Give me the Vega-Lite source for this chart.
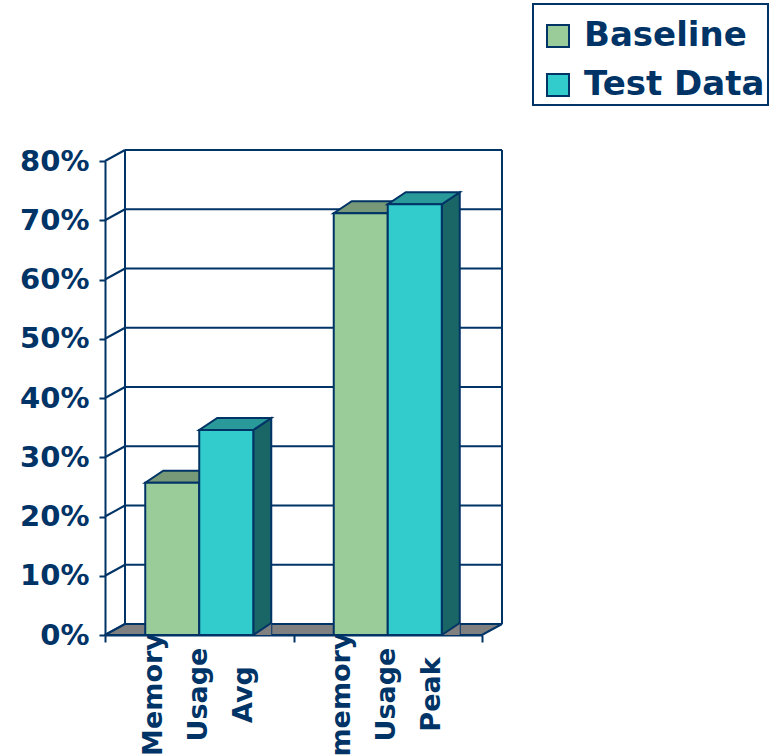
{
  "$schema": "https://vega.github.io/schema/vega-lite/v6.json",
  "width": 377,
  "height": 474,
  "autosize": "none",
  "padding": {"left": 105, "top": 161, "right": 295, "bottom": 121},
  "background": "white",
  "config": {
    "view": {"stroke": null},
    "legend": {"strokeWidth": 2}
  },
  "datasets": {
    "bars": [
      {"cat": "Memory Usage Avg", "series": "Baseline", "v": 0.257},
      {"cat": "Memory Usage Avg", "series": "Test Data", "v": 0.346},
      {"cat": "memory Usage Peak", "series": "Baseline", "v": 0.712},
      {"cat": "memory Usage Peak", "series": "Test Data", "v": 0.727}
    ],
    "ticks": [
      {"t": 0}, {"t": 0.1}, {"t": 0.2}, {"t": 0.3}, {"t": 0.4},
      {"t": 0.5}, {"t": 0.6}, {"t": 0.7}, {"t": 0.8}
    ],
    "one": [{"k": 1}]
  },
  "data": {"name": "bars"},
  "layer": [
    {
      "data": {"name": "ticks"},
      "mark": {"type": "rule", "color": "#003366", "strokeWidth": 2, "xOffset": 20, "x2Offset": 20, "yOffset": -11},
      "encoding": {
        "x": {"datum": "Memory Usage Avg", "type": "nominal", "bandPosition": 0},
        "x2": {"datum": "memory Usage Peak", "bandPosition": 1},
        "y": {"field": "t", "type": "quantitative"}
      }
    },
    {
      "data": {"name": "ticks"},
      "mark": {"type": "rule", "color": "#003366", "strokeWidth": 2, "x2Offset": 20, "y2Offset": -11},
      "encoding": {
        "x": {"datum": "Memory Usage Avg", "type": "nominal", "bandPosition": 0},
        "x2": {"datum": "Memory Usage Avg", "bandPosition": 0},
        "y": {"field": "t", "type": "quantitative"},
        "y2": {"field": "t"}
      }
    },
    {
      "data": {"name": "one"},
      "mark": {"type": "rule", "color": "#003366", "strokeWidth": 2, "xOffset": 20, "yOffset": -11, "y2Offset": -11},
      "encoding": {
        "x": {"datum": "Memory Usage Avg", "type": "nominal", "bandPosition": 0},
        "y": {"datum": 0, "type": "quantitative"},
        "y2": {"datum": 0.8}
      }
    },
    {
      "data": {"name": "one"},
      "mark": {"type": "rule", "color": "#003366", "strokeWidth": 2, "xOffset": 20, "yOffset": -11, "y2Offset": -11},
      "encoding": {
        "x": {"datum": "memory Usage Peak", "type": "nominal", "bandPosition": 1},
        "y": {"datum": 0, "type": "quantitative"},
        "y2": {"datum": 0.8}
      }
    },
    {
      "data": {"name": "one"},
      "mark": {"type": "point", "shape": "M0,0 L377,0 L397,-11 L20,-11 Z", "size": 4, "filled": true, "fill": "#808080", "fillOpacity": 1, "opacity": 1, "stroke": "#003366", "strokeWidth": 2},
      "encoding": {
        "x": {"datum": "Memory Usage Avg", "type": "nominal", "bandPosition": 0},
        "y": {"datum": 0, "type": "quantitative"}
      }
    },
    {
      "mark": {"type": "point", "shape": "M27,0 L45,-12 L45,700 L27,700 Z", "size": 4, "clip": true, "filled": true, "fillOpacity": 1, "opacity": 1, "stroke": "#003366", "strokeWidth": 2},
      "encoding": {
        "x": {"field": "cat", "type": "nominal"},
        "xOffset": {"field": "series", "type": "nominal"},
        "y": {"field": "v", "type": "quantitative"},
        "fill": {"condition": {"test": "datum.series === 'Baseline'", "value": "#5E7E5E"}, "value": "#1A6666"}
      }
    },
    {
      "mark": {"type": "point", "shape": "M27,0 L45,0 L45,-12 Z", "size": 4, "filled": true, "fill": "#808080", "fillOpacity": 1, "opacity": 1, "strokeWidth": 0},
      "encoding": {
        "x": {"field": "cat", "type": "nominal"},
        "xOffset": {"field": "series", "type": "nominal"},
        "y": {"datum": 0, "type": "quantitative"}
      }
    },
    {
      "mark": {"type": "point", "shape": "M27,0 L45,-12", "size": 4, "filled": false, "opacity": 1, "color": "#003366", "strokeWidth": 2},
      "encoding": {
        "x": {"field": "cat", "type": "nominal"},
        "xOffset": {"field": "series", "type": "nominal"},
        "y": {"datum": 0, "type": "quantitative"}
      }
    },
    {
      "mark": {"type": "point", "shape": "M-27,0 L27,0 L45,-12 L-9,-12 Z", "size": 4, "filled": true, "fillOpacity": 1, "opacity": 1, "stroke": "#003366", "strokeWidth": 2},
      "encoding": {
        "x": {"field": "cat", "type": "nominal"},
        "xOffset": {"field": "series", "type": "nominal"},
        "y": {"field": "v", "type": "quantitative"},
        "fill": {"condition": {"test": "datum.series === 'Baseline'", "value": "#779977"}, "value": "#299999"}
      }
    },
    {
      "mark": {"type": "bar", "stroke": "#003366", "strokeWidth": 2, "opacity": 1},
      "encoding": {
        "x": {
          "field": "cat",
          "type": "nominal",
          "sort": null,
          "scale": {"domain": ["Memory Usage Avg", "memory Usage Peak"], "paddingInner": 0, "paddingOuter": 0},
          "axis": {
            "title": null,
            "grid": false,
            "tickBand": "extent",
            "domainColor": "#003366",
            "domainWidth": 2,
            "tickColor": "#003366",
            "tickWidth": 2,
            "tickSize": 7,
            "labelAngle": -90,
            "labelAlign": "center",
            "labelBaseline": "middle",
            "labelExpr": "split(datum.label, ' ')",
            "labelLineHeight": 45,
            "labelOffset": -46,
            "labelFont": "DejaVu Sans",
            "labelFontSize": 27,
            "labelFontWeight": "bold",
            "labelColor": "#003366",
            "labelPadding": 52,
            "labelLimit": 0,
            "labelOverlap": false,
            "labelBound": false
          }
        },
        "xOffset": {
          "field": "series",
          "type": "nominal",
          "scale": {"domain": ["Baseline", "Test Data"], "paddingInner": 0, "paddingOuter": 0.745}
        },
        "y": {
          "field": "v",
          "type": "quantitative",
          "scale": {"domain": [0, 0.8], "nice": false, "zero": true},
          "axis": {
            "title": null,
            "values": [0, 0.1, 0.2, 0.3, 0.4, 0.5, 0.6, 0.7, 0.8],
            "format": ".0%",
            "grid": false,
            "domainColor": "#003366",
            "domainWidth": 2,
            "tickColor": "#003366",
            "tickWidth": 2,
            "tickSize": 6,
            "labelFont": "DejaVu Sans",
            "labelFontSize": 29,
            "labelFontWeight": "bold",
            "labelColor": "#003366",
            "labelPadding": 10
          }
        },
        "color": {
          "field": "series",
          "type": "nominal",
          "scale": {"domain": ["Baseline", "Test Data"], "range": ["#99CC99", "#33CCCC"]},
          "legend": {
            "title": " ",
            "titleFontSize": 9,
            "titlePadding": 3,
            "orient": "none",
            "legendX": 428,
            "legendY": -157,
            "symbolType": "square",
            "symbolSize": 484,
            "symbolStrokeColor": "#003366",
            "symbolStrokeWidth": 2,
            "symbolOpacity": 1,
            "symbolOffset": 5,
            "labelFont": "DejaVu Sans",
            "labelFontSize": 34,
            "labelFontWeight": "bold",
            "labelColor": "#003366",
            "labelOffset": 9,
            "labelLimit": 0,
            "strokeColor": "#003366",
            "fillColor": "white",
            "padding": 3,
            "rowPadding": 15
          }
        }
      }
    }
  ]
}
